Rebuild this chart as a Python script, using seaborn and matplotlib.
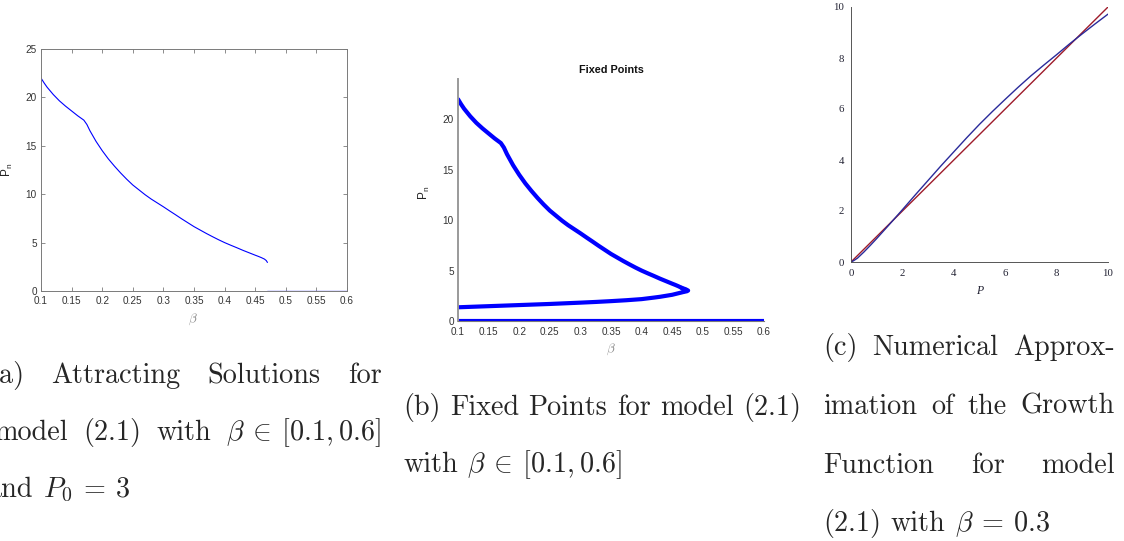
import matplotlib
matplotlib.use("Agg")
import matplotlib.pyplot as plt
import seaborn as sns
from matplotlib.ticker import MultipleLocator

# --- data ---
# (a) attracting solutions, P0 = 3
beta_a = [0.10, 0.105, 0.11, 0.12, 0.13, 0.14, 0.15, 0.16, 0.17, 0.175, 0.18, 0.19,
          0.20, 0.21, 0.22, 0.23, 0.24, 0.25, 0.26, 0.27, 0.28, 0.29, 0.30, 0.31,
          0.32, 0.33, 0.34, 0.35, 0.36, 0.37, 0.38, 0.39, 0.40, 0.41, 0.42, 0.43,
          0.44, 0.45, 0.455, 0.46, 0.465, 0.468, 0.47]
p_a = [22.0, 21.5, 21.05, 20.3, 19.65, 19.1, 18.6, 18.1, 17.65, 17.2, 16.55, 15.45,
       14.5, 13.65, 12.9, 12.2, 11.55, 10.95, 10.45, 9.95, 9.5, 9.1, 8.7, 8.28,
       7.87, 7.45, 7.05, 6.65, 6.3, 5.95, 5.62, 5.3, 5.0, 4.73, 4.47, 4.2,
       3.95, 3.7, 3.58, 3.45, 3.3, 3.15, 2.95]
beta_a_zero = [0.47, 0.6]
p_a_zero = [0, 0]

# (b) fixed points: lower branch back from the fold, plus P = 0
beta_low = [0.465, 0.472, 0.476, 0.474, 0.47, 0.46, 0.45, 0.44, 0.43, 0.42, 0.40, 0.375,
            0.35, 0.325, 0.30, 0.25, 0.20, 0.15, 0.10]
p_low = [3.3, 3.15, 3.02, 2.95, 2.9, 2.75, 2.6, 2.5, 2.4, 2.32, 2.17, 2.06,
         1.97, 1.89, 1.82, 1.69, 1.58, 1.47, 1.36]
beta_zero = [0.1, 0.6]
p_zero = [0, 0]

# (c) growth function, beta = 0.3
p_grid = [0, 0.1, 0.25, 0.5, 0.75, 1, 1.5, 2, 2.5, 3, 3.5, 4, 4.5, 5, 5.5, 6,
          6.5, 7, 7.5, 8, 8.5, 9, 9.5, 10]
g_num = [0, 0.05, 0.15, 0.39, 0.65, 0.92, 1.48, 2.05, 2.63, 3.2, 3.77, 4.32, 4.87,
         5.4, 5.9, 6.38, 6.85, 7.3, 7.72, 8.13, 8.55, 8.95, 9.34, 9.72]
p_diag = [0, 10]
g_diag = [0, 10]

beta_ticks = [0.1, 0.15, 0.2, 0.25, 0.3, 0.35, 0.4, 0.45, 0.5, 0.55, 0.6]
beta_labels = ["0.1", "0.15", "0.2", "0.25", "0.3", "0.35", "0.4", "0.45", "0.5", "0.55", "0.6"]

W, H = 1124, 541

sns.set_style("white")
plt.rcParams["font.family"] = ["Liberation Sans", "DejaVu Sans"]
plt.rcParams["mathtext.fontset"] = "cm"

fig = plt.figure(figsize=(W / 100, H / 100), dpi=100)


def px_axes(x0, y0, x1, y1):
    return fig.add_axes([x0 / W, 1 - y1 / H, (x1 - x0) / W, (y1 - y0) / H])


BLUE = "#0000ff"
AXC = "#7a7a7a"
LBL = "#333333"
TICK = 7.2

# ---------- (a) ----------
ax = px_axes(41, 49, 347, 291)
sns.lineplot(x=beta_a, y=p_a, ax=ax, color=BLUE, linewidth=0.8, sort=False, estimator=None)
sns.lineplot(x=beta_a_zero, y=p_a_zero, ax=ax, color="#5a5aff", linewidth=1.0, sort=False, estimator=None)
ax.set_xlim(0.1, 0.6)
ax.set_ylim(0, 25)
ax.set_xticks(beta_ticks, beta_labels)
ax.set_yticks([0, 5, 10, 15, 20, 25])
ax.tick_params(direction="in", length=3, width=0.6, colors=AXC, labelcolor=LBL,
               labelsize=TICK, top=True, right=True, bottom=True, left=True, pad=3.5)
ax.tick_params(axis="y", pad=3)
for s in ax.spines.values():
    s.set_color(AXC)
    s.set_linewidth(0.7)
ax.set_xlabel(r"$\beta$", fontsize=9.5, color="#8a8a8a")
ax.set_ylabel(r"P$_\mathregular{n}$", fontsize=8.5, color="#222222")
ax.xaxis.set_label_coords(0.497, -0.087)
ax.yaxis.set_label_coords(-0.085, 0.5)

# ---------- (b) ----------
ax = px_axes(458, 79, 764, 321)
sns.lineplot(x=beta_a, y=p_a, ax=ax, color=BLUE, linewidth=3.0, sort=False, estimator=None)
sns.lineplot(x=beta_low, y=p_low, ax=ax, color=BLUE, linewidth=3.0, sort=False, estimator=None)
sns.lineplot(x=beta_zero, y=p_zero, ax=ax, color=BLUE, linewidth=3.0, sort=False, estimator=None)
ax.set_xlim(0.1, 0.6)
ax.set_ylim(0, 24)
ax.set_xticks(beta_ticks, beta_labels)
ax.set_yticks([0, 5, 10, 15, 20])
ax.tick_params(direction="in", length=2.5, width=0.6, colors=AXC, labelcolor=LBL,
               labelsize=TICK, pad=4)
ax.tick_params(axis="y", pad=3)
ax.spines["top"].set_visible(False)
ax.spines["right"].set_visible(False)
ax.spines["left"].set_color("#9a9a9a")
ax.spines["left"].set_linewidth(1.4)
ax.spines["bottom"].set_color(AXC)
ax.set_title("Fixed Points", fontsize=7.8, fontweight="bold", pad=4, color="#111111")
ax.set_xlabel(r"$\beta$", fontsize=9.5, color="#8a8a8a")
ax.set_ylabel(r"P$_\mathregular{n}$", fontsize=8.5, color="#222222")
ax.xaxis.set_label_coords(0.5, -0.087)
ax.yaxis.set_label_coords(-0.085, 0.53)

# ---------- (c) ----------
ax = px_axes(851, 7, 1108, 262)
sns.lineplot(x=p_diag, y=g_diag, ax=ax, color="#9e1b2a", linewidth=1.0, sort=False, estimator=None)
sns.lineplot(x=p_grid, y=g_num, ax=ax, color="#2a2a9a", linewidth=1.0, sort=False, estimator=None)
ax.set_xlim(0, 10)
ax.set_ylim(0, 10)
ax.xaxis.set_major_locator(MultipleLocator(2))
ax.yaxis.set_major_locator(MultipleLocator(2))
ax.xaxis.set_minor_locator(MultipleLocator(1))
ax.yaxis.set_minor_locator(MultipleLocator(1))
ax.tick_params(which="major", direction="out", length=3, width=0.6, colors="#444444",
               labelcolor="#222233", labelsize=7.8, pad=2)
ax.tick_params(which="minor", direction="out", length=1.8, width=0.5, colors="#444444")
for lab in ax.get_xticklabels() + ax.get_yticklabels():
    lab.set_family("Liberation Serif")
ax.spines["top"].set_visible(False)
ax.spines["right"].set_visible(False)
for s in ("left", "bottom"):
    ax.spines[s].set_color("#555555")
    ax.spines[s].set_linewidth(0.7)
ax.set_xlabel("P", fontsize=8.5, family="Liberation Serif", style="italic", color="#222233")
ax.xaxis.set_label_coords(0.5, -0.09)

# ---------- captions ----------
CAP = 20.3
renderer = fig.canvas.get_renderer()


def text_width(s):
    t = fig.text(0, 0, s, fontsize=CAP, family="cmr10")
    w = t.get_window_extent(renderer).width
    t.remove()
    return w


SPACE = text_width("a a") - text_width("aa")


def caption_line(words, x0, y, x1=None):
    texts = [fig.text(0, 1 - y / H, w, fontsize=CAP, family="cmr10", va="baseline", ha="left")
             for w in words]
    widths = [t.get_window_extent(renderer).width for t in texts]
    if x1 is None or len(words) == 1:
        gap = SPACE
    else:
        gap = (x1 - x0 - sum(widths)) / (len(words) - 1)
    x = x0
    for t, w in zip(texts, widths):
        t.set_x(x / W)
        x += w + gap


caption_line(["(a)", "Attracting", "Solutions", "for"], -12, 383, 382)
caption_line(["model", "(2.1)", "with", r"$\beta\:\in\:[0.1, 0.6]$"], -6, 440, 381)
caption_line(["and", r"$P_0\:=\:3$"], -12, 497)

caption_line(["(b)", "Fixed", "Points", "for", "model", "(2.1)"], 403, 415)
caption_line(["with", r"$\beta\:\in\:[0.1, 0.6]$"], 403, 472)

caption_line(["(c)", "Numerical", "Approx-"], 823, 355, 1115)
caption_line(["imation", "of", "the", "Growth"], 823, 414, 1115)
caption_line(["Function", "for", "model"], 823, 473, 1115)
caption_line(["(2.1)", "with", r"$\beta\:=\:0.3$"], 823, 531)

fig.savefig("out.png", dpi=100)
plt.close(fig)
